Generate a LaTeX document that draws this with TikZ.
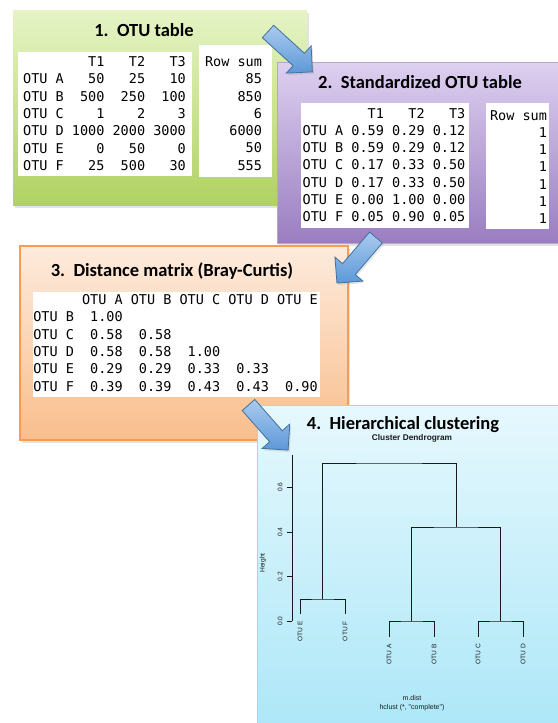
\documentclass[tikz,border=0pt]{standalone}
\usepackage{fontspec}
\setmainfont{Carlito}
\setmonofont{DejaVu Sans Mono}
\newfontfamily\rfont{Liberation Sans}
\usetikzlibrary{shapes.arrows,shadows}
\definecolor{gtop}{HTML}{E6F4C6}
\definecolor{gbot}{HTML}{B0D262}
\definecolor{ptop}{HTML}{DDD0F0}
\definecolor{pbot}{HTML}{9A7DC0}
\definecolor{pbrd}{HTML}{B3A8C8}
\definecolor{otop}{HTML}{FDEBDD}
\definecolor{obot}{HTML}{F9BE8C}
\definecolor{obrd}{HTML}{F59D56}
\definecolor{btop}{HTML}{E6F8FD}
\definecolor{bbot}{HTML}{ADE7F8}
\definecolor{bbrd}{HTML}{9FD9EE}
\definecolor{atop}{HTML}{A9CBEF}
\definecolor{abot}{HTML}{5D98D8}
\definecolor{abrd}{HTML}{41719C}
\definecolor{dline}{HTML}{1A1A1A}
\begin{document}
\begin{tikzpicture}[x=1pt,y=-1pt,
  panel/.style={rectangle, anchor=north west, inner sep=0pt, outer sep=0pt,
    drop shadow={opacity=0.22, shadow xshift=2pt, shadow yshift=-2.5pt}},
  ttl/.style={font=\bfseries\fontsize{18.5}{22}\selectfont, anchor=base, inner sep=0pt},
  wbox/.style={rectangle, fill=white, inner sep=0pt, outer sep=0pt},
  tbl/.style={font=\ttfamily\fontsize{13.5}{17.3}\selectfont, inner sep=0pt, align=right, text=black},
  blk/.style={single arrow, anchor=tail, inner sep=8pt, outer sep=0pt,
    minimum height=60pt, single arrow head extend=10pt,
    top color=atop, bottom color=abot, draw=abrd, line width=0.8pt,
    drop shadow={opacity=0.2, shadow xshift=1.5pt, shadow yshift=-2pt}},
  dend/.style={draw=dline, line width=0.9pt},
  rsm/.style={font=\rfont\fontsize{6.6}{8}\selectfont, inner sep=0pt, text=dline}]
\useasboundingbox (0,0) rectangle (557,723);

% ---- Panel 1
\node[panel, minimum width=294pt, minimum height=195pt, top color=gtop, bottom color=gbot] (p1) at (13,10) {};
\node[ttl] (t1) at (144,36) {1.\ \ OTU table};
\node[wbox, minimum width=174pt, minimum height=124pt] (b1) at (105,114) {};
\node[wbox, minimum width=73pt, minimum height=132pt] (b1r) at (235.5,111) {};
\node[tbl] (x1) at (104.5,113.5) {T1~~~T2~~~T3\\
OTU~A~~~50~~~25~~~10\\
OTU~B~~500~~250~~100\\
OTU~C~~~~1~~~~2~~~~3\\
OTU~D~1000~2000~3000\\
OTU~E~~~~0~~~50~~~~0\\
OTU~F~~~25~~500~~~30};
\node[tbl] (x1r) at (233.5,113.5) {Row~sum\\85\\850\\6\\6000\\50\\555};

% ---- Panel 2
\node[panel, minimum width=285pt, minimum height=181pt, top color=ptop, bottom color=pbot, draw=pbrd, line width=0.8pt] (p2) at (277,62) {};
\node[ttl] (t2) at (420,88.5) {2.\ \ Standardized OTU table};
\node[wbox, minimum width=168pt, minimum height=125pt] (b2) at (385,165.5) {};
\node[wbox, minimum width=63pt, minimum height=126pt] (b2r) at (517.5,166) {};
\node[tbl] (x2) at (384,165) {T1~~~T2~~~T3\\
OTU~A~0.59~0.29~0.12\\
OTU~B~0.59~0.29~0.12\\
OTU~C~0.17~0.33~0.50\\
OTU~D~0.17~0.33~0.50\\
OTU~E~0.00~1.00~0.00\\
OTU~F~0.05~0.90~0.05};
\node[tbl] (x2r) at (518.5,167) {Row~sum\\1\\1\\1\\1\\1\\1};

% ---- Arrow 1
\node[blk, rotate=-42.3] (a1) at (268,31.5) {};

% ---- Panel 3
\node[panel, minimum width=328pt, minimum height=194pt, top color=otop, bottom color=obot, draw=obrd, line width=1.2pt] (p3) at (20,246) {};
\node[ttl] (t3) at (172,276.5) {3.\ \ Distance matrix (Bray-Curtis)};
\node[wbox, minimum width=287pt, minimum height=105pt] (b3) at (176.5,344.5) {};
\node[tbl, align=left] (x3) at (175.5,343) {\mbox{}~~~~~~OTU~A~OTU~B~OTU~C~OTU~D~OTU~E\\
OTU~B~~1.00\\
OTU~C~~0.58~~0.58\\
OTU~D~~0.58~~0.58~~1.00\\
OTU~E~~0.29~~0.29~~0.33~~0.33\\
OTU~F~~0.39~~0.39~~0.43~~0.43~~0.90};

% ---- Arrow 2
\node[blk, rotate=-130.6] (a2) at (376,237.5) {};

% ---- Panel 4
\node[panel, minimum width=305pt, minimum height=323pt, top color=btop, bottom color=bbot, draw=bbrd, line width=1pt] (p4) at (257,405) {};
\node[ttl] (t4) at (403,429) {4.\ \ Hierarchical clustering};
\node[font=\rfont\bfseries\fontsize{8.3}{10}\selectfont, inner sep=0pt, text=dline] (cd) at (412,438) {Cluster Dendrogram};

% axis
\coordinate (axb) at (292,621);
\coordinate (axt) at (292,455);
\draw[dend] (axb) -- (axt);
\foreach \v/\yy/\k in {0.0/621/0,0.2/576.5/1,0.4/532/2,0.6/487/3}{
  \coordinate (tk\k) at (287,\yy);
  \coordinate (te\k) at (292,\yy);
  \draw[dend] (tk\k) -- (te\k);
  \node[rsm, rotate=90] (tl\k) at (280,\yy) {\v};
}
\node[rsm, rotate=90] (hl) at (263,563) {Height};

% dendrogram
\coordinate (lE) at (300,614);
\coordinate (lF) at (345,614);
\coordinate (lA) at (389,637);
\coordinate (lB) at (434,637);
\coordinate (lC) at (478,637);
\coordinate (lD) at (523,637);
\coordinate (mEF) at (322.5,599);
\coordinate (mAB) at (411.5,621);
\coordinate (mCD) at (500.5,621);
\coordinate (mABCD) at (456,527);
\coordinate (mAll) at (389,463);
\draw[dend] (lE) |- (mEF) -| (lF);
\draw[dend] (lA) |- (mAB) -| (lB);
\draw[dend] (lC) |- (mCD) -| (lD);
\draw[dend] (mAB) |- (mABCD) -| (mCD);
\draw[dend] (mEF) |- (mAll) -| (mABCD);

\foreach \n/\xx/\yy in {E/300/621,F/345/621,A/389/644,B/434/644,C/478/644,D/523/644}{
  \node[rsm, rotate=90, anchor=east] (ll\n) at (\xx,\yy) {OTU \n};
}
\node[font=\rfont\fontsize{7}{9}\selectfont, inner sep=0pt, text=dline, align=center] (sub) at (412,703.5) {m.dist\\hclust (*, "complete")};

% ---- Arrow 3
\node[blk, rotate=-48.7] (a3) at (248.5,405) {};
\end{tikzpicture}
\end{document}
